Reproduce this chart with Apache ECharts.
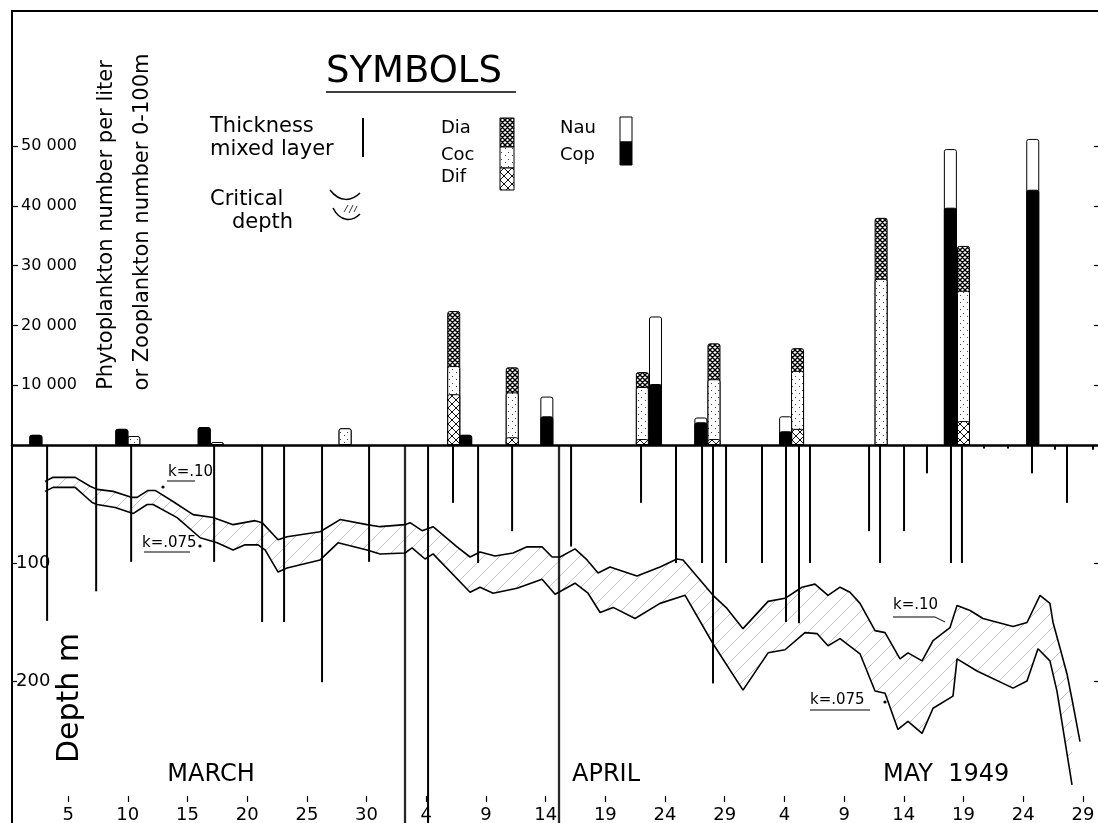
<!DOCTYPE html>
<html><head><meta charset="utf-8">
<script src="https://cdn.jsdelivr.net/npm/echarts@6/dist/echarts.min.js"></script>
<style>html,body{margin:0;padding:0;background:#fff}#c{width:1098px;height:823px}</style>
</head><body><div id="c"></div>
<script>
// x = day counted from 1 March (April d = 31+d, May d = 61+d)
const tickDays   = [5,10,15,20,25,30,35,40,45,50,55,60,65,70,75,80,85,90];
const tickLabels = ['5','10','15','20','25','30','4','9','14','19','24','29','4','9','14','19','24','29'];
const countTicks  = [10000,20000,30000,40000,50000];
const countLabels = ['10 000','20 000','30 000','40 000','50 000'];
const depthTicks  = [100,200];
const depthLabels = ['100','200'];

// Phytoplankton, number per liter (Dia / Coc / Dif)
const phytoDays = [10.5,17.5,28.2,37.3,42.2,53.1,59.1,66.1,73.1,80.0];
const diaValues = [0,0,0,9200,4200,2500,6000,3800,10200,7500];
const cocValues = [1500,500,2800,4700,7500,8700,10000,9700,27800,21800];
const difValues = [0,0,0,8500,1300,1000,1000,2700,0,4000];
// Zooplankton, number 0-100 m (Nau / Cop)
const zooDays   = [2.3,9.5,16.4,38.3,45.1,54.2,58.0,65.1,78.9,85.8];
const nauValues = [0,0,0,0,3300,11300,800,2500,9800,8500];
const copValues = [1700,2700,3000,1700,4800,10200,3800,2300,39700,42700];

// Thickness of mixed layer (m); 400 = deeper than the chart
const mixedDays  = [3.24,7.35,10.28,17.23,21.25,23.09,26.27,30.21,33.22,35.15,37.24,39.34,42.19,46.12,47.13,52.99,55.92,58.10,59.02,60.11,63.12,65.13,66.22,67.14,72.09,73.01,75.02,76.94,78.95,79.87,81.72,83.73,85.74,87.66,88.67,90.85];
const mixedDepth = [149,124,99,99,150,150,201,99,400,400,49,100,73,400,86,49,100,100,202,100,100,150,151,100,73,100,73,24,100,100,3,3,24,4,49,4];
const thickLines = [33.22,46.12];

// Critical depth, k = .10
const k10Days  = [3.07,3.74,5.59,6.84,7.43,8.77,10.36,10.78,11.70,12.29,13.79,15.47,17.14,18.82,20.66,21.25,22.59,23.34,26.11,27.78,30.04,31.13,33.22,33.64,34.65,35.57,37.58,38.67,39.51,40.76,42.27,43.44,44.70,45.54,46.21,47.46,48.47,49.39,50.39,52.65,54.58,56.00,56.51,59.02,60.19,61.53,63.63,65.05,66.47,67.56,68.65,69.66,70.49,71.33,72.59,73.43,74.68,75.35,76.53,77.45,78.87,79.46,80.55,81.63,84.15,85.32,86.41,87.24,87.50,88.08,88.67,89.17,89.76];
const k10Depth = [30.8,27.4,27.4,35.0,37.6,39.3,44.4,44.4,38.5,38.5,47.9,59.0,61.5,67.5,64.1,65.8,80.3,77.8,73.5,63.2,67.5,69.2,67.5,65.8,72.6,69.2,86.3,94.9,90.6,94.0,91.5,86.3,86.3,94.9,94.9,88.0,97.4,108.5,103.4,111.1,103.4,96.6,97.4,127.4,138.5,155.6,132.5,129.9,120.5,117.9,127.4,120.5,124.8,134.2,157.3,159.0,181.2,176.1,182.9,165.8,154.7,135.9,140.2,147.0,153.8,150.4,127.4,134.2,150.4,171.8,194.0,219.7,251.3];
// Critical depth, k = .075
const k075Days  = [3.07,3.74,5.59,7.01,7.43,8.94,10.44,11.62,12.12,14.13,16.06,17.48,18.82,19.82,20.91,21.50,22.59,23.34,26.11,27.61,30.04,31.13,33.22,33.81,34.90,35.57,38.67,39.51,40.60,42.60,44.70,45.79,47.46,48.55,49.56,50.65,52.49,54.58,56.68,59.02,61.53,63.63,65.05,66.72,67.73,68.65,69.66,71.33,72.59,73.43,74.51,75.35,76.53,77.45,79.12,79.46,81.13,84.15,85.32,86.24,87.24,87.83,88.33,89.09];
const k075Depth = [39.3,35.9,35.9,48.7,50.4,53.0,58.1,50.4,50.4,61.5,78.6,82.9,88.9,84.6,84.6,88.9,107.7,104.3,97.4,82.9,88.9,92.3,91.5,87.2,96.6,92.3,124.8,120.5,125.6,121.4,113.7,126.5,117.1,125.6,141.9,137.6,147.0,134.2,127.4,168.4,207.7,176.1,173.5,159.0,159.8,170.1,164.1,176.9,208.5,210.3,241.0,234.2,244.4,223.1,212.8,181.2,191.5,206.0,200.0,172.6,182.9,208.5,240.2,288.0];

// ---------- patterns ----------
function makePattern(size, draw) {
  const c = document.createElement('canvas');
  c.width = c.height = size;
  const g = c.getContext('2d');
  g.fillStyle = '#fff'; g.fillRect(0, 0, size, size);
  draw(g, size);
  return c;
}
function diag(g, s, both) {
  g.beginPath();
  g.moveTo(-1, s + 1); g.lineTo(s + 1, -1);
  g.moveTo(-1, 1); g.lineTo(1, -1);
  g.moveTo(s - 1, s + 1); g.lineTo(s + 1, s - 1);
  if (both) {
    g.moveTo(-1, -1); g.lineTo(s + 1, s + 1);
    g.moveTo(s - 1, -1); g.lineTo(s + 1, 1);
    g.moveTo(-1, s - 1); g.lineTo(1, s + 1);
  }
  g.stroke();
}
const diaCanvas = makePattern(5, (g, s) => { g.strokeStyle = '#000'; g.lineWidth = 1.4; diag(g, s, true); });
const cocCanvas = makePattern(7, (g, s) => { g.fillStyle = '#444'; g.fillRect(1, 1, 1, 1); g.fillRect(4, 5, 1, 1); });
const difCanvas = makePattern(8, (g, s) => { g.strokeStyle = '#111'; g.lineWidth = 1; diag(g, s, true); });
const bandCanvas = makePattern(16, (g, s) => { g.strokeStyle = '#b4b4b4'; g.lineWidth = 0.8; diag(g, s, false); });
const pat = c => ({ image: c, repeat: 'repeat' });

// ---------- bar data: cumulative heights, drawn overlapped (top segment first) ----------
const sumArr = (...arrs) => arrs[0].map((_, i) => arrs.reduce((s, a) => s + a[i], 0));
const pts = (days, vals) => days.map((d, i) => [d, vals[i] > 0 ? vals[i] : '-']);
const zip = (a, b) => a.map((v, i) => [v, b[i]]);

const FONT = '"DejaVu Sans"';
const barStyle = (color) => ({ color: color, borderColor: '#000', borderWidth: 1, borderRadius: [2, 2, 0, 0] });

const chart = echarts.init(document.getElementById('c'), null, { renderer: 'canvas' });

function T(text, x, y, size, o) {
  o = o || {};
  return {
    type: 'text', x: x, y: y, rotation: o.rot || 0, z: 100,
    style: {
      text: text, font: (o.weight || 'normal') + ' ' + size + 'px ' + FONT,
      fill: '#000', textAlign: o.align || 'left', textVerticalAlign: 'middle'
    }
  };
}
function L(x1, y1, x2, y2, w) {
  return { type: 'line', z: 100, shape: { x1: x1, y1: y1, x2: x2, y2: y2 }, style: { stroke: '#000', lineWidth: w || 1.2 } };
}
function R(x, y, w, h, fill) {
  return { type: 'rect', z: 100, shape: { x: x, y: y, width: w, height: h }, style: { fill: fill, stroke: '#000', lineWidth: 1 } };
}
const dot = (cx, cy) => ({ type: 'circle', z: 100, shape: { cx: cx, cy: cy, r: 1.6 }, style: { fill: '#000' } });

const graphics = [
  // axis titles
  T('Phytoplankton number per liter', 107, 225, 21, { rot: Math.PI / 2, align: 'center' }),
  T('or Zooplankton number 0-100m', 143, 222, 21, { rot: Math.PI / 2, align: 'center' }),
  T('Depth m', 70, 698, 30, { rot: Math.PI / 2, align: 'center' }),
  // legend
  T('SYMBOLS', 326, 72, 37),
  L(326, 92, 516, 92, 1.6),
  T('Thickness', 210, 127, 21),
  T('mixed layer', 210, 150, 21),
  L(363, 118, 363, 157, 2),
  T('Critical', 210, 200, 21),
  T('depth', 232, 223, 21),
  { type: 'bezierCurve', z: 100, shape: { x1: 330, y1: 190, x2: 360, y2: 193, cpx1: 340, cpy1: 203, cpx2: 352, cpy2: 201 }, style: { stroke: '#000', lineWidth: 1.5, fill: null } },
  { type: 'bezierCurve', z: 100, shape: { x1: 333, y1: 208, x2: 360, y2: 214, cpx1: 340, cpy1: 222, cpx2: 352, cpy2: 222 }, style: { stroke: '#000', lineWidth: 1.5, fill: null } },
  L(344, 212, 348, 205, 0.8), L(349, 213, 353, 205, 0.8), L(354, 212, 357, 206, 0.8),
  T('Dia', 441, 128, 18), T('Coc', 441, 155, 18), T('Dif', 441, 177, 18),
  R(500, 118, 14, 29, pat(diaCanvas)), R(500, 147, 14, 21, pat(cocCanvas)), R(500, 168, 14, 22, pat(difCanvas)),
  T('Nau', 560, 128, 18), T('Cop', 560, 155, 18),
  R(620, 117, 12, 25, '#fff'), R(620, 142, 12, 23, '#000'),
  // curve labels
  T('k=.10', 168, 472, 15), L(167, 481, 195, 481, 1), dot(163, 487),
  T('k=.075', 142, 543, 15), L(144, 552, 190, 552, 1), dot(200, 546),
  T('k=.10', 893, 605, 15), L(893, 617, 935, 617, 1), L(935, 617, 945, 622, 1),
  T('k=.075', 810, 700, 15), L(810, 710, 870, 710, 1), dot(885, 702),
  // months
  T('MARCH', 211, 775, 24, { align: 'center' }),
  T('APRIL', 572, 775, 24),
  T('MAY  1949', 883, 775, 24)
];

const xCommon = { type: 'value', min: 0.3, max: 91.35, splitLine: { show: false } };
const DEPTH_MAX = 320.3;

const option = {
  animation: false,
  backgroundColor: '#fff',
  grid: [
    { left: 12, right: -1, top: 11, height: 434, outerBoundsMode: 'none', containLabel: false, show: false },
    { left: 12, right: -1, top: 445, height: 378, outerBoundsMode: 'none', containLabel: false, show: false }
  ],
  xAxis: [
    Object.assign({}, xCommon, { gridIndex: 0, position: 'bottom', z: 10,
      axisLine: { show: true, onZero: false, lineStyle: { color: '#000', width: 2.5 } },
      axisTick: { show: false }, axisLabel: { show: false } }),
    Object.assign({}, xCommon, { gridIndex: 0, position: 'top', z: 10,
      axisLine: { show: true, onZero: false, lineStyle: { color: '#000', width: 2 } },
      axisTick: { show: false }, axisLabel: { show: false } }),
    Object.assign({}, xCommon, { gridIndex: 1, position: 'bottom', offset: -21,
      axisLine: { show: false, onZero: false },
      axisTick: { show: true, inside: true, length: 6, customValues: tickDays, lineStyle: { color: '#000', width: 1.2 } },
      axisLabel: { show: true, customValues: tickDays, margin: 4, fontSize: 18, fontFamily: 'DejaVu Sans', color: '#000',
        formatter: v => tickLabels[tickDays.indexOf(v)] } })
  ],
  yAxis: [
    { type: 'value', gridIndex: 0, min: 0, max: 72600, position: 'left',
      axisLine: { show: true, onZero: false, lineStyle: { color: '#000', width: 2 } },
      axisTick: { show: true, inside: true, length: 6, customValues: countTicks, lineStyle: { color: '#000', width: 1.2 } },
      axisLabel: { show: true, inside: true, margin: 9, customValues: countTicks, fontSize: 16, fontFamily: 'DejaVu Sans', color: '#000',
        formatter: v => countLabels[countTicks.indexOf(v)] },
      splitLine: { show: false } },
    { type: 'value', gridIndex: 0, min: 0, max: 72600, position: 'right',
      axisLine: { show: false, onZero: false },
      axisTick: { show: true, inside: true, length: 5, customValues: countTicks, lineStyle: { color: '#000', width: 1.2 } },
      axisLabel: { show: false }, splitLine: { show: false } },
    { type: 'value', gridIndex: 1, min: 0, max: DEPTH_MAX, inverse: true, position: 'left',
      axisLine: { show: true, onZero: false, lineStyle: { color: '#000', width: 2 } },
      axisTick: { show: true, inside: true, length: 5, customValues: depthTicks, lineStyle: { color: '#000', width: 1.2 } },
      axisLabel: { show: true, inside: true, margin: 4, customValues: depthTicks, fontSize: 18, fontFamily: 'DejaVu Sans', color: '#000',
        formatter: v => depthLabels[depthTicks.indexOf(v)] },
      splitLine: { show: false } },
    { type: 'value', gridIndex: 1, min: 0, max: DEPTH_MAX, inverse: true, position: 'right',
      axisLine: { show: false, onZero: false },
      axisTick: { show: true, inside: true, length: 5, customValues: depthTicks, lineStyle: { color: '#000', width: 1.2 } },
      axisLabel: { show: false }, splitLine: { show: false } }
  ],
  series: [
    // phytoplankton: Dia on top of Coc on top of Dif
    { name: 'Dia', type: 'bar', xAxisIndex: 0, yAxisIndex: 0, barWidth: 13, barGap: '-100%',
      data: pts(phytoDays, sumArr(difValues, cocValues, diaValues)), itemStyle: barStyle(pat(diaCanvas)) },
    { name: 'Coc', type: 'bar', xAxisIndex: 0, yAxisIndex: 0, barWidth: 13, barGap: '-100%',
      data: pts(phytoDays, sumArr(difValues, cocValues)), itemStyle: barStyle(pat(cocCanvas)) },
    { name: 'Dif', type: 'bar', xAxisIndex: 0, yAxisIndex: 0, barWidth: 13, barGap: '-100%',
      data: pts(phytoDays, difValues), itemStyle: barStyle(pat(difCanvas)) },
    // zooplankton: Nau on top of Cop
    { name: 'Nau', type: 'bar', xAxisIndex: 0, yAxisIndex: 0, barWidth: 13, barGap: '-100%',
      data: pts(zooDays, sumArr(copValues, nauValues)), itemStyle: barStyle('#fff') },
    { name: 'Cop', type: 'bar', xAxisIndex: 0, yAxisIndex: 0, barWidth: 13, barGap: '-100%',
      data: pts(zooDays, copValues), itemStyle: barStyle('#000') },
    // critical depth band
    { name: 'k=.075', type: 'line', xAxisIndex: 2, yAxisIndex: 2, z: 2, data: zip(k075Days, k075Depth), symbol: 'none',
      lineStyle: { color: '#000', width: 1.6 }, areaStyle: { color: pat(bandCanvas), opacity: 1 } },
    { name: 'k=.10', type: 'line', xAxisIndex: 2, yAxisIndex: 2, z: 3, data: zip(k10Days, k10Depth), symbol: 'none',
      lineStyle: { color: '#000', width: 1.6 }, areaStyle: { color: '#fff', opacity: 1 } },
    // thickness of mixed layer
    { name: 'Mixed layer', type: 'bar', xAxisIndex: 2, yAxisIndex: 2, z: 4, barWidth: 2,
      data: mixedDays.map((d, i) => thickLines.indexOf(d) >= 0
        ? { value: [d, mixedDepth[i]], itemStyle: { borderColor: '#000', borderWidth: 0.6 } }
        : [d, mixedDepth[i]]),
      itemStyle: { color: '#000' } }
  ],
  graphic: graphics
};
chart.setOption(option);
</script>
</body></html>
